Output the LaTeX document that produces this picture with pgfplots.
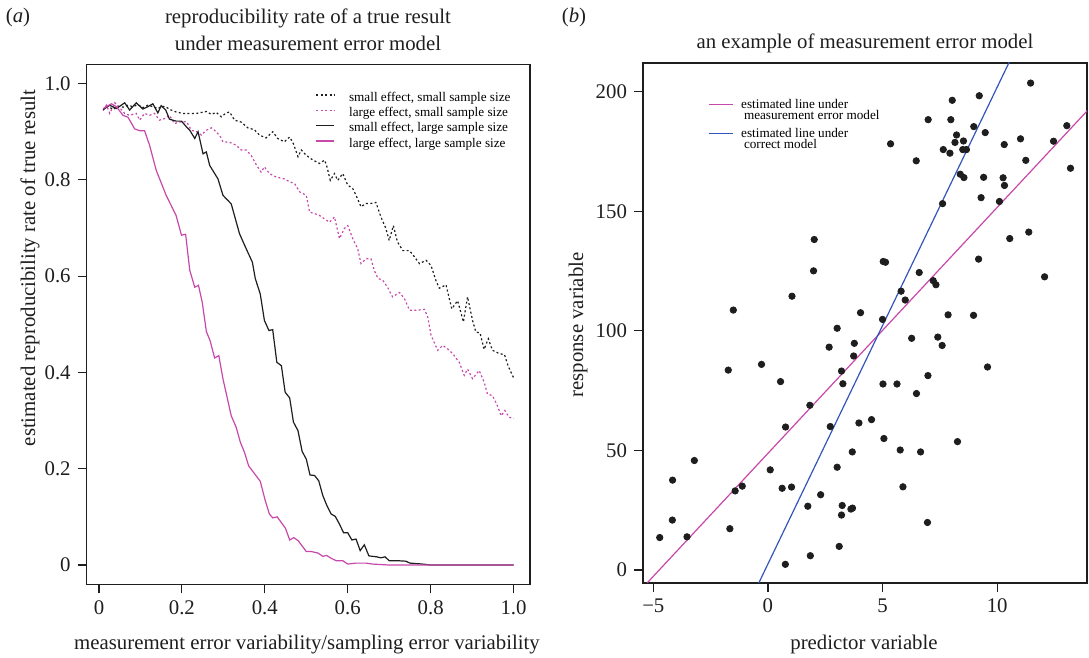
\documentclass[border=0pt]{standalone}
\usepackage{fontspec}
\setmainfont{Liberation Serif}
\usepackage{pgfplots}
\pgfplotsset{compat=1.18}

\definecolor{mag}{RGB}{199,72,170}
\definecolor{blu}{RGB}{51,85,187}
\definecolor{ink}{RGB}{30,30,30}
\newcommand\mainsize{\fontsize{10.4}{12}\selectfont}
\newcommand\legsize{\fontsize{6.6}{7.6}\selectfont}
\newcommand\twoline[2]{$\vcenter{\baselineskip=5.6pt\hbox{#1}\hbox{#2}}$}
\newcommand\tl[1]{{\rmfamily\mainsize #1}}

\pgfplotsset{
  rplot/.style={
    scale only axis, anchor=south west,
    tick align=outside, xtick pos=bottom, ytick pos=left,
    major tick length=4.5pt,
    tick style={line width=0.6pt, ink},
    axis line style={line width=0.7pt, ink},
    every tick label/.append style={font=\mainsize, text=ink},
  },
}

\begin{document}
\begin{tikzpicture}
\path[use as bounding box] (0pt,0pt) rectangle (544.5pt,329pt);

% (a) reproducibility rate
\begin{axis}[rplot,
  at={(43.35pt,36.85pt)}, width=221.65pt, height=260pt,
  xmin=-0.0296, xmax=1.0396, ymin=-0.04, ymax=1.04,
  xtick={0,0.2,0.4,0.6,0.8,1}, xticklabels={\tl{0},\tl{0.2},\tl{0.4},\tl{0.6},\tl{0.8},\tl{1.0}},
  ytick={0,0.2,0.4,0.6,0.8,1}, yticklabels={\tl{0},\tl{0.2},\tl{0.4},\tl{0.6},\tl{0.8},\tl{1.0}},
  legend image code/.code={\draw[#1] (0pt,1.6pt) -- (9pt,1.6pt);},
  legend style={at={(0.517,0.948)}, anchor=north west, draw=none, fill=none,
    inner sep=0pt, outer sep=0pt, font=\legsize, row sep=0.75pt, column sep=6pt,
    nodes={inner ysep=0.3pt, inner xsep=1pt, text height=4.7pt, text depth=1.6pt},
    cells={anchor=west}},
]
\addplot[ink, line width=0.6pt, dash pattern=on 1pt off 1.2pt] coordinates {
(0.01,0.946)(0.022,0.953)(0.034,0.946)(0.046,0.953)(0.058,0.951)(0.07,0.955)(0.082,0.952)(0.094,0.956)(0.106,0.950)(0.118,0.955)(0.13,0.952)(0.142,0.948)(0.152,0.953)(0.162,0.951)(0.174,0.945)(0.186,0.941)(0.202,0.938)(0.219,0.938)(0.235,0.938)(0.247,0.94)(0.259,0.942)(0.271,0.936)(0.283,0.94)(0.295,0.931)(0.307,0.939)(0.315,0.941)(0.327,0.924)(0.343,0.92)(0.359,0.908)(0.375,0.904)(0.387,0.893)(0.403,0.887)(0.419,0.9)(0.431,0.886)(0.447,0.879)(0.46,0.889)(0.469,0.875)(0.48,0.848)(0.488,0.862)(0.5,0.851)(0.516,0.841)(0.532,0.834)(0.544,0.841)(0.549,0.83)(0.558,0.799)(0.568,0.813)(0.576,0.799)(0.588,0.813)(0.6,0.789)(0.612,0.782)(0.62,0.768)(0.632,0.744)(0.644,0.751)(0.656,0.751)(0.668,0.753)(0.68,0.723)(0.692,0.699)(0.7,0.674)(0.71,0.705)(0.72,0.671)(0.733,0.653)(0.749,0.653)(0.761,0.64)(0.773,0.626)(0.789,0.633)(0.801,0.622)(0.813,0.59)(0.821,0.575)(0.837,0.582)(0.851,0.532)(0.865,0.549)(0.879,0.505)(0.889,0.557)(0.901,0.508)(0.909,0.484)(0.919,0.482)(0.929,0.448)(0.939,0.47)(0.949,0.446)(0.966,0.439)(0.978,0.437)(0.987,0.413)(1.0,0.389)
};
\addlegendentry{small effect, small sample size}
\addplot[mag, line width=0.6pt, dash pattern=on 1pt off 1.2pt] coordinates {
(0.01,0.944)(0.018,0.955)(0.026,0.938)(0.038,0.96)(0.05,0.95)(0.062,0.938)(0.074,0.934)(0.09,0.938)(0.098,0.924)(0.11,0.938)(0.122,0.934)(0.134,0.938)(0.146,0.924)(0.158,0.927)(0.17,0.934)(0.182,0.917)(0.195,0.92)(0.211,0.921)(0.223,0.903)(0.235,0.9)(0.247,0.893)(0.259,0.903)(0.271,0.908)(0.283,0.9)(0.295,0.887)(0.299,0.879)(0.315,0.878)(0.331,0.872)(0.343,0.862)(0.355,0.862)(0.367,0.851)(0.379,0.832)(0.391,0.816)(0.399,0.827)(0.411,0.813)(0.427,0.806)(0.447,0.802)(0.46,0.796)(0.472,0.792)(0.484,0.775)(0.5,0.768)(0.508,0.733)(0.52,0.73)(0.532,0.726)(0.544,0.719)(0.556,0.712)(0.568,0.723)(0.58,0.678)(0.592,0.699)(0.6,0.705)(0.612,0.678)(0.624,0.657)(0.632,0.626)(0.644,0.636)(0.656,0.636)(0.664,0.612)(0.673,0.595)(0.684,0.592)(0.696,0.577)(0.708,0.557)(0.725,0.566)(0.737,0.553)(0.749,0.529)(0.765,0.529)(0.785,0.531)(0.793,0.515)(0.801,0.477)(0.817,0.446)(0.829,0.456)(0.841,0.449)(0.853,0.439)(0.869,0.421)(0.881,0.394)(0.889,0.407)(0.901,0.387)(0.917,0.404)(0.929,0.38)(0.937,0.355)(0.949,0.352)(0.959,0.335)(0.97,0.31)(0.979,0.321)(0.989,0.307)(1.0,0.304)
};
\addlegendentry{large effect, small sample size}
\addplot[ink, line width=0.6pt] coordinates {
(0.01,0.946)(0.026,0.955)(0.042,0.948)(0.062,0.96)(0.074,0.945)(0.09,0.96)(0.106,0.947)(0.118,0.952)(0.13,0.958)(0.142,0.939)(0.15,0.954)(0.161,0.945)(0.17,0.926)(0.186,0.922)(0.199,0.922)(0.211,0.91)(0.219,0.903)(0.231,0.886)(0.239,0.9)(0.251,0.854)(0.259,0.858)(0.267,0.83)(0.287,0.802)(0.299,0.768)(0.319,0.75)(0.339,0.688)(0.355,0.657)(0.37,0.629)(0.377,0.595)(0.389,0.563)(0.399,0.508)(0.41,0.487)(0.419,0.489)(0.429,0.421)(0.44,0.414)(0.449,0.359)(0.46,0.347)(0.469,0.297)(0.48,0.279)(0.49,0.236)(0.5,0.22)(0.509,0.187)(0.52,0.186)(0.53,0.175)(0.54,0.144)(0.549,0.125)(0.56,0.106)(0.57,0.101)(0.58,0.085)(0.59,0.067)(0.6,0.067)(0.61,0.052)(0.62,0.054)(0.63,0.03)(0.64,0.042)(0.651,0.019)(0.67,0.017)(0.68,0.015)(0.69,0.017)(0.7,0.009)(0.72,0.009)(0.74,0.008)(0.75,0.004)(0.78,0.002)(0.8,0)(1.0,0)
};
\addlegendentry{small effect, large sample size}
\addplot[mag, line width=0.6pt] coordinates {
(0.01,0.948)(0.03,0.958)(0.042,0.952)(0.058,0.934)(0.07,0.93)(0.086,0.906)(0.098,0.902)(0.11,0.902)(0.122,0.872)(0.138,0.82)(0.162,0.768)(0.186,0.726)(0.199,0.685)(0.209,0.687)(0.219,0.612)(0.231,0.577)(0.24,0.581)(0.249,0.546)(0.259,0.485)(0.268,0.466)(0.279,0.43)(0.289,0.435)(0.299,0.387)(0.319,0.31)(0.331,0.286)(0.341,0.255)(0.351,0.234)(0.361,0.206)(0.389,0.174)(0.401,0.134)(0.411,0.106)(0.419,0.098)(0.43,0.1)(0.45,0.076)(0.46,0.052)(0.47,0.057)(0.481,0.05)(0.5,0.028)(0.512,0.028)(0.528,0.025)(0.54,0.018)(0.549,0.02)(0.56,0.014)(0.572,0.009)(0.588,0.009)(0.6,0.002)(0.62,0.004)(0.644,0.004)(0.66,0.002)(0.7,0)(1.0,0)
};
\addlegendentry{large effect, large sample size}
\end{axis}

% (b) measurement error model
\begin{axis}[rplot,
  at={(321.5pt,37.5pt)}, width=222pt, height=260pt,
  xmin=-5.45, xmax=13.92, ymin=-5.4, ymax=212,
  xtick={-5,0,5,10}, xticklabels={\tl{−5},\tl{0},\tl{5},\tl{10}},
  ytick={0,50,100,150,200}, yticklabels={\tl{0},\tl{50},\tl{100},\tl{150},\tl{200}},
  legend image code/.code={\draw[#1] (0pt,1.6pt) -- (12pt,1.6pt);},
  legend style={at={(0.1464,0.932)}, anchor=north west, draw=none, fill=none,
    inner sep=0pt, outer sep=0pt, font=\legsize, row sep=5pt, column sep=3pt,
    nodes={inner ysep=0.5pt, inner xsep=1pt},
    cells={anchor=west}},
]
\addplot[only marks, mark=*, mark size=1.6pt, ink, forget plot] coordinates {
(2.02,138.2)(1.99,125.1)(1.05,114.5)(-1.51,108.7)(3.02,101.1)
(11.46,203.6)(9.22,198.3)(8.04,196.4)(6.99,188.3)(7.98,188.3)
(8.98,185.4)(13.04,185.8)(5.35,178.2)(8.23,181.9)(9.48,182.9)
(8.16,178.8)(8.53,179.4)(11.02,180.3)(12.46,179.3)(10.31,177.9)
(7.65,175.8)(7.94,174.3)(8.50,175.8)(8.66,175.8)(6.47,171.1)
(11.25,171.3)(13.20,168.0)(8.39,165.5)(8.55,164.1)(9.41,164.2)
(10.26,164.0)(10.32,160.8)(9.30,155.7)(10.10,154.1)(7.62,153.2)
(11.38,141.3)(10.55,138.6)(5.03,129.0)(5.13,128.7)(9.19,130.0)
(6.60,124.4)(12.07,122.6)(7.21,121.0)(7.33,119.3)(5.81,116.6)
(5.99,112.9)(4.04,107.6)(5.00,104.8)(7.86,106.7)(8.97,106.5)
(2.67,93.2)(3.21,83.2)(-1.73,83.6)(-0.28,86.0)(0.55,78.8)
(3.27,77.9)(1.83,68.9)(0.77,59.8)(2.72,60.0)(-3.21,45.8)
(0.10,41.9)(3.02,43.0)(-4.16,37.6)(-1.43,33.1)(-1.12,35.1)
(0.62,34.2)(1.03,34.7)(2.30,31.5)(1.74,26.7)(3.24,27.0)
(3.21,23.0)(-4.17,20.9)(-1.66,17.3)(-4.72,13.6)(-3.53,13.9)
(3.11,9.9)(1.85,6.0)(0.76,2.4)(3.77,94.8)(3.74,89.5)
(6.27,96.9)(7.41,97.4)(7.60,93.9)(9.58,84.9)(5.02,77.8)
(5.63,77.8)(6.98,81.3)(6.48,73.8)(3.97,61.5)(4.52,62.9)
(5.06,55.0)(5.77,50.2)(6.66,49.4)(3.68,49.4)(8.27,53.7)
(5.89,34.8)(3.62,25.5)(3.69,25.9)(6.96,19.9)
};
\addplot[mag, line width=0.6pt] coordinates {(-6,-12.9) (14.2,194.8)};
\addlegendentry{\twoline{estimated line under}{\hspace{1.4pt}measurement error model}}
\addplot[blu, line width=0.6pt] coordinates {(-0.7,-11.4) (11,221.8)};
\addlegendentry{\twoline{estimated line under}{\hspace{1.4pt}correct model}}
\end{axis}

% titles and axis labels
\begin{scope}[every node/.style={font=\mainsize, text=ink}]
\node at (9pt,320pt) {(\textit{a})};
\node at (154pt,320pt) {reproducibility rate of a true result};
\node at (154pt,307.5pt) {under measurement error model};
\node at (287pt,320pt) {(\textit{b})};
\node at (432.5pt,307.5pt) {an example of measurement error model};
\node at (153.5pt,6.5pt) {measurement error variability/sampling error variability};
\node at (432pt,6.5pt) {predictor variable};
\node[rotate=90] at (15pt,195pt) {estimated reproducibility rate of true result};
\node[rotate=90] at (289pt,166.5pt) {response variable};
\end{scope}
\end{tikzpicture}
\end{document}
